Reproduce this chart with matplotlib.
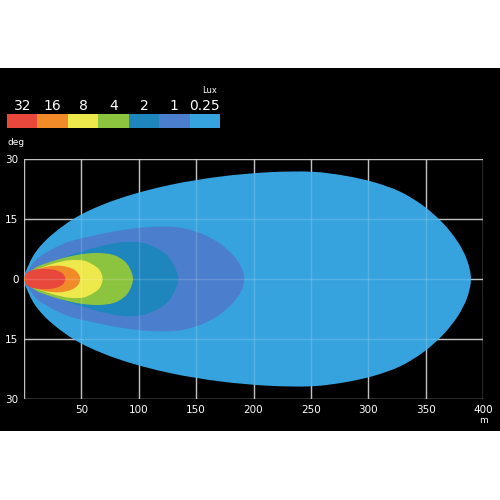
import numpy as np
import matplotlib.pyplot as plt
from matplotlib.patches import Rectangle, PathPatch
from matplotlib.path import Path

# isolux levels, legend order
lux_labels = ['32', '16', '8', '4', '2', '1', '0.25']
lux_colors = ['#e8473b', '#f18b29', '#ede84b', '#8dc43f', '#1f86bd', '#4b7fcd', '#37a3de']

# upper half outlines: distance (m), half angle (deg)
x_025 = [0, 1, 9.6, 24, 49, 84, 127, 171, 214, 252, 280, 305, 328, 348, 365, 378, 386, 389.5]
y_025 = [0, 1.5, 6.5, 11.0, 16.0, 20.2, 23.5, 25.6, 26.7, 26.8, 25.8, 24.2, 21.8, 18.3, 14.0, 9.3, 4.8, 0]
x_1 = [0, 3, 12, 36, 60, 85, 110, 135, 155, 170, 182, 189, 192]
y_1 = [0, 1.8, 5.2, 9.0, 10.8, 12.2, 13.0, 12.9, 11.3, 9.0, 6.0, 3.2, 0]
x_2 = [0, 4, 16, 36, 64, 85, 102, 115, 125, 131, 134.5]
y_2 = [0, 1.2, 3.0, 5.5, 8.0, 9.2, 9.1, 7.8, 5.8, 3.2, 0]
x_4 = [0, 10, 20, 35, 50, 65, 78, 87, 92, 95]
y_4 = [0, 2.8, 4.0, 5.3, 6.2, 6.5, 6.0, 4.6, 2.8, 0]
x_8 = [0, 11, 25, 40, 52, 60, 66, 68.5]
y_8 = [0, 2.3, 3.8, 4.7, 4.6, 3.6, 2.2, 0]
x_16 = [0, 8, 20, 32, 42, 47, 49]
y_16 = [0, 2.0, 3.1, 3.3, 2.6, 1.5, 0]
x_32 = [0.5, 2, 6, 14, 22, 29, 34, 36]
y_32 = [0, 1.4, 2.1, 2.5, 2.5, 2.1, 1.3, 0]

outlines = [(x_025, y_025), (x_1, y_1), (x_2, y_2), (x_4, y_4),
            (x_8, y_8), (x_16, y_16), (x_32, y_32)]
outline_colors = lux_colors[::-1]

x_ticks = [0, 50, 100, 150, 200, 250, 300, 350, 400]
y_ticks = [-30, -15, 0, 15, 30]

YS = 3.5  # deg -> m-ish, so curve tangents follow what is seen on screen


def smooth_path(xs, ys):
    # closed loop through the read points, drawn as cubic Bezier segments
    xs = np.array(xs, float)
    ys = np.array(ys, float) * YS
    px = np.concatenate([xs, xs[-2:0:-1]])
    py = np.concatenate([ys, -ys[-2:0:-1]])
    pts = np.column_stack([px, py])
    n = len(pts)
    tan = np.roll(pts, -1, axis=0) - np.roll(pts, 1, axis=0)
    tan = tan / np.linalg.norm(tan, axis=1)[:, None]
    verts = [pts[0]]
    codes = [Path.MOVETO]
    for i in range(n):
        a, b = pts[i], pts[(i + 1) % n]
        d = np.linalg.norm(b - a) / 3
        verts += [a + tan[i] * d, b - tan[(i + 1) % n] * d, b]
        codes += [Path.CURVE4] * 3
    verts = np.array(verts)
    verts[:, 1] /= YS
    return Path(verts, codes)


fig = plt.figure(figsize=(5, 5), dpi=100)
fig.patch.set_facecolor('white')
fig.patches.append(Rectangle((0, 0.138), 1, 0.726, transform=fig.transFigure,
                             facecolor='black', edgecolor='none', zorder=-10))

ax = fig.add_axes([0.048, 0.202, 0.918, 0.48])
ax.set_facecolor('black')
ax.set_xlim(0, 400)
ax.set_ylim(-30, 30)

# grid under the fills, plus a faint one over them
for xv in x_ticks:
    ax.axvline(xv, color='#b4b4b4', lw=1, zorder=1)
    ax.axvline(xv, color='white', lw=1, alpha=0.16, zorder=10)
for yv in y_ticks:
    ax.axhline(yv, color='#b4b4b4', lw=1, zorder=1)
    ax.axhline(yv, color='white', lw=1, alpha=0.16, zorder=10)

for (xs, ys), c in zip(outlines, outline_colors):
    ax.add_patch(PathPatch(smooth_path(xs, ys), facecolor=c, edgecolor='none', zorder=2))

for s in ax.spines.values():
    s.set_visible(False)
ax.set_xticks(x_ticks[1:])
ax.set_xticklabels([str(v) for v in x_ticks[1:]])
ax.set_yticks(y_ticks)
ax.set_yticklabels([str(abs(v)) for v in y_ticks])
ax.tick_params(length=0, colors='white', labelsize=7.5, pad=4)
ax.text(-0.037, 1.067, 'deg', transform=ax.transAxes, color='white', fontsize=6.5,
        ha='left', va='center')
ax.text(1.0, -0.09, 'm', transform=ax.transAxes, color='white', fontsize=6.5,
        ha='center', va='center')

# colour legend
lax = fig.add_axes([0.014, 0.744, 0.426, 0.028])
lax.set_xlim(0, len(lux_labels))
lax.set_ylim(0, 1)
lax.axis('off')
for i, (lab, c) in enumerate(zip(lux_labels, lux_colors)):
    lax.add_patch(Rectangle((i, 0), 1, 1, facecolor=c, edgecolor='none'))
    lax.text(i + 0.5, 1.1, lab, color='white', fontsize=10, ha='center', va='bottom')
lax.text(len(lux_labels) - 0.35, 2.35, 'Lux', color='white', fontsize=6, ha='center', va='bottom')

fig.savefig('out.png', dpi=100, facecolor='white')
